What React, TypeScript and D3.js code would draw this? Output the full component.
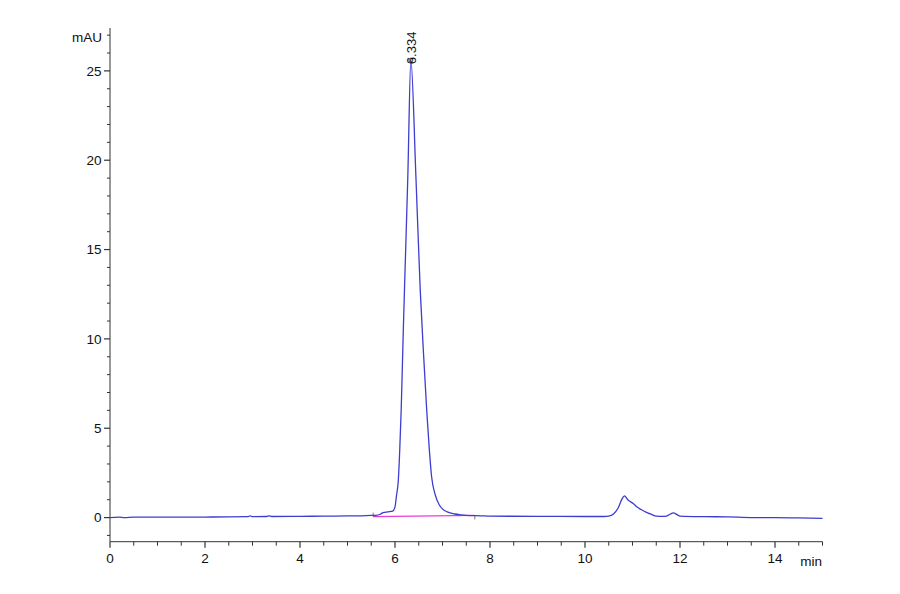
import React from "react";
import * as d3 from "d3";

// Chromatogram trace: retention time (min) and absorbance (mAU)
const traceTime = [
  0, 0.2, 0.3, 0.5, 1, 1.5, 2, 2.5, 2.9, 2.95, 3.0, 3.3, 3.35, 3.4, 4, 4.5, 5, 5.3, 5.5,
  5.6, 5.7, 5.75, 5.85, 5.95, 6.0, 6.03, 6.07, 6.1, 6.13, 6.175, 6.2, 6.27, 6.334,
  6.44, 6.53, 6.6, 6.67, 6.72, 6.77, 6.85, 6.93, 7.01, 7.1, 7.26, 7.4, 7.58, 7.8,
  8, 9, 10, 10.4, 10.5, 10.6, 10.7, 10.78, 10.83, 10.9, 10.96, 11.02, 11.09, 11.18,
  11.26, 11.33, 11.4, 11.5, 11.65, 11.73, 11.8, 11.86, 11.93, 12.0, 12.5, 13, 13.5,
  14, 14.5, 15,
];
const traceValue = [
  0, 0.02, 0.0, 0.02, 0.02, 0.03, 0.03, 0.04, 0.05, 0.1, 0.05, 0.06, 0.1, 0.06, 0.07, 0.08, 0.09, 0.1, 0.12,
  0.12, 0.2, 0.28, 0.32, 0.36, 0.6, 1.2, 2.1, 3.8, 6.0, 10.5, 12.8, 19.1, 25.6,
  19.1, 12.8, 9.2, 5.9, 3.9, 2.3, 1.25, 0.72, 0.46, 0.32, 0.2, 0.15, 0.11, 0.1,
  0.08, 0.07, 0.06, 0.06, 0.08, 0.2, 0.55, 1.05, 1.22, 1.0, 0.88, 0.78, 0.6, 0.45,
  0.34, 0.25, 0.18, 0.08, 0.07, 0.1, 0.2, 0.26, 0.18, 0.08, 0.05, 0.04, 0.0,
  0.0, -0.02, -0.04,
];

// Integration baseline of the main peak
const baselineTime = [5.54, 7.68];
const baselineValue = [0.05, 0.12];

// Peak annotation
const peakTime = 6.334;
const peakHeight = 25.6;
const peakLabel = "6.334";

const xLabelTicks = [0, 2, 4, 6, 8, 10, 12, 14];
const yLabelTicks = [0, 5, 10, 15, 20, 25];
const xMinorStep = 0.5;
const yMinorStep = 1;
const xUnit = "min";
const yUnit = "mAU";

const W = 900;
const H = 594;
const FONT = "'Liberation Sans Narrow', 'Arial Narrow', 'Liberation Sans', Arial, sans-serif";

export default function App() {
  const x = d3.scaleLinear().domain([0, 15]).range([110, 822.5]);
  const y = d3.scaleLinear().domain([-1.35, 27.4]).range([541.7, 28]);

  const pts: [number, number][] = traceTime.map((t, i) => [t, traceValue[i]]);
  const line = d3
    .line<[number, number]>()
    .x((d) => x(d[0]))
    .y((d) => y(d[1]))
    .curve(d3.curveMonotoneX);

  const xMinor = d3.range(0, 15 + 1e-9, xMinorStep).filter((v) => !xLabelTicks.includes(v));
  const yMinor = d3.range(-1, 27 + 1e-9, yMinorStep).filter((v) => !yLabelTicks.includes(v));

  const axisColor = "#333";
  const x0 = x(0);
  const yAxisY = y(-1.35);

  return (
    <div style={{ position: "absolute", left: 0, top: 0 }}>
      <svg width={W} height={H} style={{ display: "block", background: "#fff" }}>
        {/* Y axis */}
        <line x1={x0} x2={x0} y1={y(27.4)} y2={yAxisY} stroke={axisColor} strokeWidth={1} />
        {yMinor.map((v) => (
          <line key={"ym" + v} x1={x0 - 3} x2={x0} y1={y(v)} y2={y(v)} stroke={axisColor} strokeWidth={1} />
        ))}
        {yLabelTicks.map((v) => (
          <g key={"y" + v}>
            <line x1={x0 - 6} x2={x0} y1={y(v)} y2={y(v)} stroke={axisColor} strokeWidth={1.2} />
            <text
              x={x0 - 8.5}
              y={y(v)}
              dy="0.36em"
              textAnchor="end"
              fontFamily={FONT}
              fontSize={13.5}
              fill="#111"
            >
              {v}
            </text>
          </g>
        ))}
        <text x={102} y={42} textAnchor="end" fontFamily={FONT} fontSize={13.5} fill="#111">
          {yUnit}
        </text>

        {/* X axis */}
        <line x1={x0} x2={x(15)} y1={yAxisY} y2={yAxisY} stroke={axisColor} strokeWidth={1} />
        {xMinor.map((v) => (
          <line key={"xm" + v} x1={x(v)} x2={x(v)} y1={yAxisY} y2={yAxisY + 4} stroke={axisColor} strokeWidth={1} />
        ))}
        {xLabelTicks.map((v) => (
          <g key={"x" + v}>
            <line x1={x(v)} x2={x(v)} y1={yAxisY} y2={yAxisY + 6} stroke={axisColor} strokeWidth={1.2} />
            <text x={x(v)} y={563} textAnchor="middle" fontFamily={FONT} fontSize={13.5} fill="#111">
              {v}
            </text>
          </g>
        ))}
        <text x={822} y={566} textAnchor="end" fontFamily={FONT} fontSize={13.5} fill="#111">
          {xUnit}
        </text>

        {/* integration baseline */}
        <line
          x1={x(baselineTime[0])}
          x2={x(baselineTime[1])}
          y1={y(baselineValue[0])}
          y2={y(baselineValue[1])}
          stroke="#e83cd8"
          strokeWidth={1.2}
        />
        <line
          x1={x(baselineTime[0])}
          x2={x(baselineTime[0])}
          y1={y(baselineValue[0]) - 4}
          y2={y(baselineValue[0])}
          stroke="#555"
          strokeWidth={0.8}
        />
        <line
          x1={x(baselineTime[1])}
          x2={x(baselineTime[1])}
          y1={y(baselineValue[1])}
          y2={y(baselineValue[1]) + 4}
          stroke="#555"
          strokeWidth={0.8}
        />

        {/* trace */}
        <path d={line(pts) || ""} fill="none" stroke="#3d3dd0" strokeWidth={1.3} />

        {/* peak marker and label */}
        <circle cx={x(peakTime)} cy={y(peakHeight)} r={2} fill="none" stroke="#333366" strokeWidth={1} />
        <text
          transform={`translate(${x(peakTime)}, ${y(peakHeight) + 4}) rotate(-90)`}
          dy="0.36em"
          textAnchor="start"
          fontFamily={FONT}
          fontSize={13}
          fill="#111"
        >
          {peakLabel}
        </text>
      </svg>
    </div>
  );
}
